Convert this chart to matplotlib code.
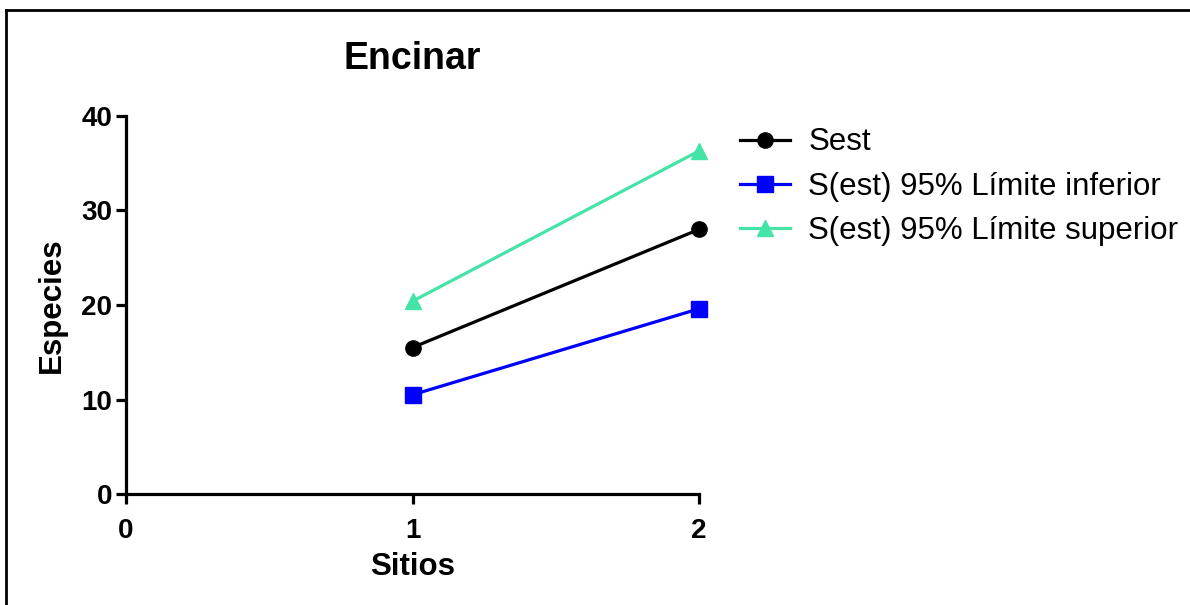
import matplotlib.pyplot as plt
from matplotlib.lines import Line2D

# data
sitios = [1, 2]
sest = [15.5, 28.0]
lim_inf = [10.5, 19.6]
lim_sup = [20.4, 36.3]
labels = ['Sest', 'S(est) 95% Límite inferior', 'S(est) 95% Límite superior']

plt.rcParams['font.family'] = ['Liberation Sans', 'DejaVu Sans']

fig = plt.figure(figsize=(11.9, 6.05), dpi=100)
ax = fig.add_axes([126 / 1190, 1 - 494 / 605, (699 - 126) / 1190, (494 - 116) / 605])

ax.plot(sitios, sest, color='black', marker='o', markersize=11, lw=2.3, label=labels[0], clip_on=False)
ax.plot(sitios, lim_inf, color='#0000FF', marker='s', markersize=11, lw=2.3, label=labels[1], clip_on=False)
ax.plot(sitios, lim_sup, color='#44E3A6', marker='^', markersize=12, lw=2.3, label=labels[2], clip_on=False)

ax.set_xlim(0, 2)
ax.set_ylim(0, 40)
ax.set_xticks([0, 1, 2])
ax.set_yticks([0, 10, 20, 30, 40])
for s in ['top', 'right']:
    ax.spines[s].set_visible(False)
for s in ['left', 'bottom']:
    ax.spines[s].set_linewidth(2.3)
ax.tick_params(width=2.3, length=7, labelsize=20, pad=3)
ax.tick_params(axis='x', pad=10)
for t in ax.get_xticklabels() + ax.get_yticklabels():
    t.set_fontweight('bold')

ax.set_xlabel('Sitios', fontsize=22.5, fontweight='bold', labelpad=6)
ax.set_ylabel('Especies', fontsize=22.5, fontweight='bold', labelpad=10)
ax.set_title('Encinar', fontsize=27, fontweight='bold', pad=34)

ax.legend(loc='upper left', bbox_to_anchor=(727 / 1190, 1 - 115 / 605),
          bbox_transform=fig.transFigure, frameon=False, fontsize=22.5,
          handlelength=1.6, handletextpad=0.6, labelspacing=0.45, borderaxespad=0)

# border on top and left like the original image
fig.add_artist(Line2D([6 / 1190, 1], [1 - 10 / 605, 1 - 10 / 605], color='black', lw=2, transform=fig.transFigure))
fig.add_artist(Line2D([6 / 1190, 6 / 1190], [0, 1 - 10 / 605], color='black', lw=2, transform=fig.transFigure))

fig.savefig('out.png', dpi=100)
